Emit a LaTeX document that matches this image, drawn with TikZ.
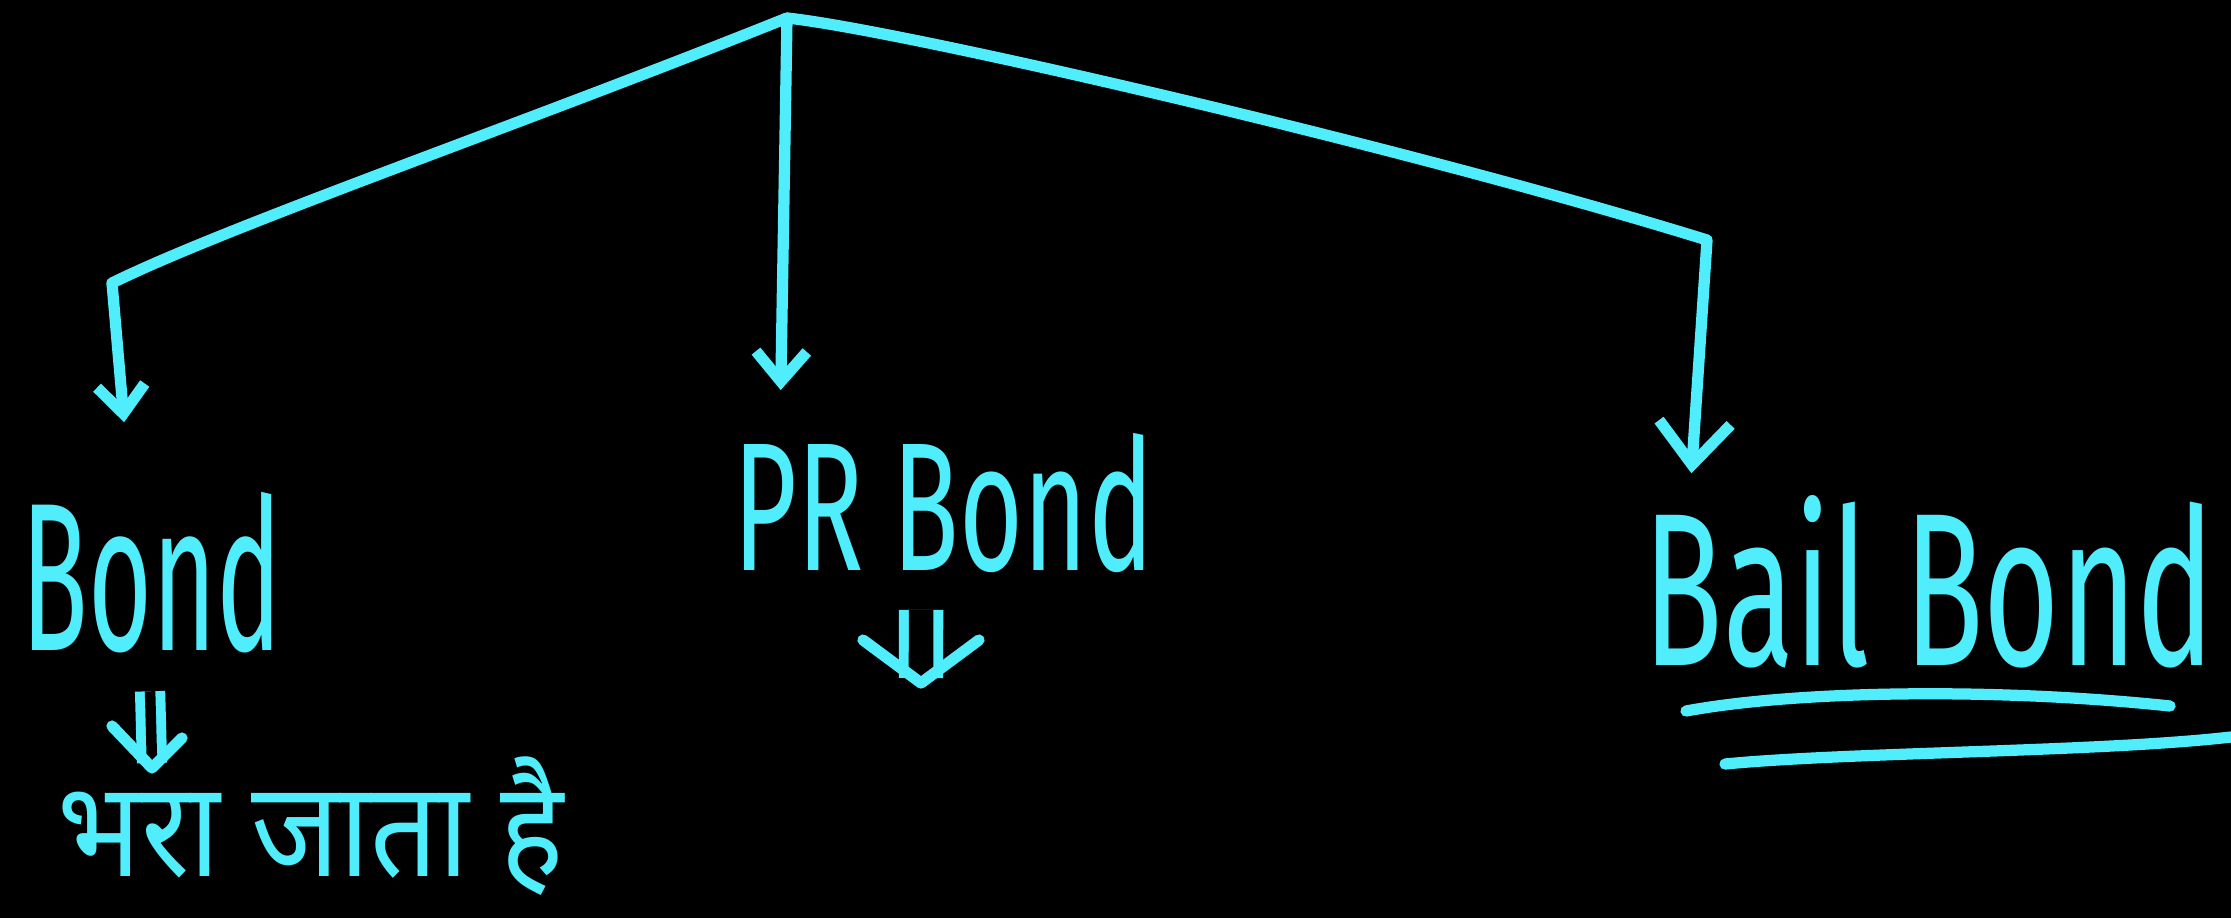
\documentclass[tikz,border=0pt]{standalone}
\usepackage{fontspec}
\usepackage{graphicx}
\setmainfont{Fira Sans}
\newfontfamily\devfont[Script=Devanagari]{Noto Sans}
\usetikzlibrary{arrows.meta}
\definecolor{chalk}{RGB}{80,238,252}

\begin{document}
\begin{tikzpicture}[x=0.01cm,y=-0.01cm,
	line/.style={draw=chalk,line width=3.2pt,line cap=round,line join=round},
	barb/.style={-{Straight Barb[length=#1,width=1.7*#1]}},
	dbl/.style={draw=chalk,line width=2.8pt,double=black,double distance=#1},
	word/.style={text=chalk,inner sep=0pt,anchor=base west}]
	\useasboundingbox (0,0) rectangle (2231,918);
	\fill[black] (0,0) rectangle (2231,918);
	\node[word,font=\fontsize{60}{60}\selectfont] (bond) at (21,650) {\scalebox{0.52}[1]{Bond}};
	\node[word,font=\fontsize{52}{52}\selectfont] (prbond) at (733,570) {\scalebox{0.6}[1]{PR Bond}};
	\node[word,font=\fontsize{62}{62}\selectfont] (bailbond) at (1643,665) {\scalebox{0.6}[1]{Bail Bond}};
	\node[word,font=\devfont\fontsize{38}{38}\selectfont] (bhara) at (57,876) {\scalebox{0.89}[1]{भरा जाता है}};
	\coordinate (root) at (787,18);
	\coordinate (lbend) at (112,283);
	\coordinate (rbend) at (1707,240);
	\coordinate (bdown) at (152,768);
	\coordinate (prdown) at (921,683);
	\draw[line] (root) .. controls (520,125) and (230,225) .. (lbend);
	\draw[line,barb=8pt,shorten >=0.69cm] (lbend) -- ([xshift=1.09cm]bond.north west);
	\draw[line,barb=8.5pt,shorten >=0.42cm] (root) -- ([xshift=0.47cm]prbond.north west);
	\draw[line,barb=12pt,shorten >=0.21cm] (root) .. controls (900,30) and (1400,145) .. (rbend) -- ([xshift=0.47cm]bailbond.north west);
	\draw[dbl=3pt] ([xshift=1.29cm,yshift=-0.38cm]bond.south west) -- ([yshift=0.05cm]bdown);
	\draw[line] ([shift={(-40,-42)}]bdown) -- (bdown) -- ([shift={(30,-30)}]bdown);
	\draw[dbl=7pt] ([xshift=1.88cm,yshift=-0.37cm]prbond.south west) -- ([yshift=0.05cm]prdown);
	\draw[line] ([shift={(-58,-43)}]prdown) -- (prdown) -- ([shift={(58,-43)}]prdown);
	\draw[line] (1686,711) .. controls (1800,690) and (2000,688) .. (2170,706);
	\draw[line] (1725,764) .. controls (1850,752) and (2100,752) .. (2231,737);
\end{tikzpicture}
\end{document}
